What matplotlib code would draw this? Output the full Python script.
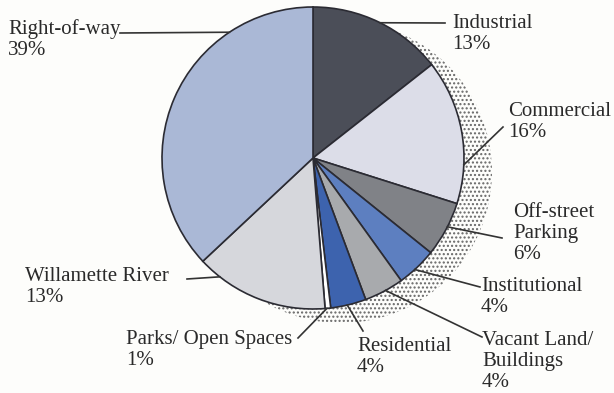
import numpy as np
import matplotlib.pyplot as plt
from matplotlib.patches import Circle

plt.rcParams['font.family'] = ['Liberation Serif', 'DejaVu Serif']

W, H = 614, 393

categories = ['Industrial', 'Commercial', 'Off-street\nParking', 'Institutional',
              'Vacant Land/\nBuildings', 'Residential', 'Parks/ Open Spaces',
              'Willamette River', 'Right-of-way']
pct_labels = ['13%', '16%', '6%', '4%', '4%', '4%', '1%', '13%', '39%']
# slice sizes as they are drawn in the original (a bit off the printed %)
shares = [14.4, 15.5, 5.9, 4.3, 4.25, 3.8, 0.6, 14.3, 37.0]
colors = ['#4b4e58', '#dcdde8', '#808287', '#5d7fc0', '#a8aaad',
          '#3d63ae', '#ffffff', '#d6d7dc', '#aab8d6']

# label layout: text top-left (px from top), leader start (px), leader angle on rim
text_pos = [(452, 14), (508, 102), (513, 203), (481, 277), (482, 331),
            (357, 337), (126, 330), (25, 267), (8, 19)]
lead_start = [(445, 23), (503, 127), (502, 238), (480, 287), (482, 337),
              (363, 331), (298, 338), (187, 279), (120, 33)]
lead_angle = [63.6, -2.6, -27.1, -47.6, -61.3, -76.9, -84.7, -128.1, 123.6]

cx, cy, r = 313, H - 158, 151

fig = plt.figure(figsize=(6.14, 3.93), dpi=100, facecolor='#fdfdfb')
ax = fig.add_axes([0, 0, 1, 1])
ax.set_facecolor('#fdfdfb')

# stippled drop shadow
shadow = Circle((cx + 28, cy - 14), r, facecolor='none', edgecolor='#666666',
                hatch='....', linewidth=0, zorder=0)
ax.add_patch(shadow)

wedges, _ = ax.pie(shares, colors=colors, startangle=90, counterclock=False,
                   center=(cx, cy), radius=r,
                   wedgeprops=dict(edgecolor='#2b2b33', linewidth=1.2))
for w in wedges:
    w.set_zorder(2)

for name, pct, (tx, ty), (sx, sy), a in zip(categories, pct_labels, text_pos,
                                             lead_start, lead_angle):
    ex = cx + r * np.cos(np.radians(a))
    ey = cy + r * np.sin(np.radians(a))
    ax.plot([sx, ex], [H - sy, ey], color='#333333', lw=1.2, zorder=3)
    ax.text(tx, H - ty, name + '\n' + pct, fontsize=15, color='#2a2a2a',
            va='top', ha='left', linespacing=1.15)

ax.set_xlim(0, W)
ax.set_ylim(0, H)
ax.set_aspect('equal')
ax.axis('off')

fig.savefig('out.png', dpi=100, facecolor=fig.get_facecolor())
